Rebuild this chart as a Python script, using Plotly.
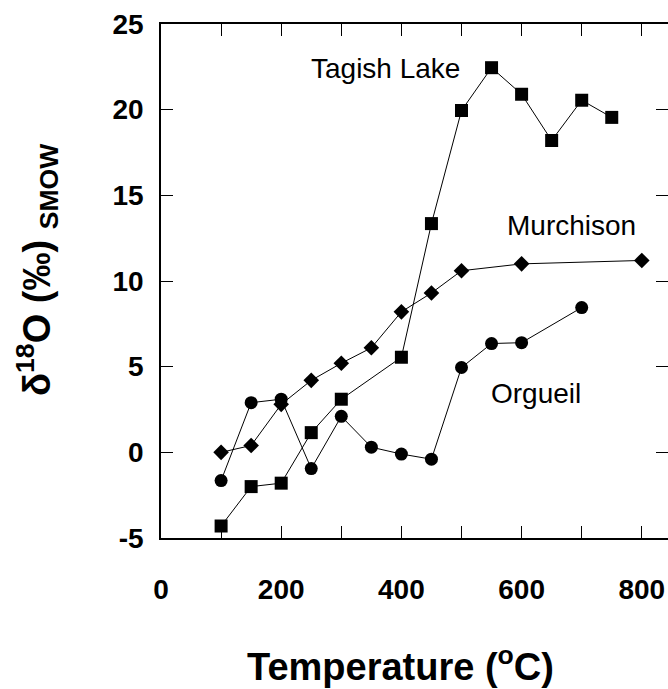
import plotly.graph_objects as go

# ---- data ----
murchison_T = [100, 150, 200, 250, 300, 350, 400, 450, 500, 600, 800]
murchison_d18O = [0.0, 0.4, 2.8, 4.2, 5.2, 6.1, 8.2, 9.3, 10.6, 11.0, 11.2]

orgueil_T = [100, 150, 200, 250, 300, 350, 400, 450, 500, 550, 600, 700]
orgueil_d18O = [-1.65, 2.9, 3.1, -0.95, 2.1, 0.3, -0.1, -0.4, 4.95, 6.35, 6.4, 8.45]

tagish_T = [100, 150, 200, 250, 300, 400, 450, 500, 550, 600, 650, 700, 750]
tagish_d18O = [-4.3, -2.0, -1.8, 1.15, 3.1, 5.55, 13.35, 19.95, 22.45, 20.9, 18.2, 20.55, 19.55]

x_major_step = 200
x_minor_step = 100
y_tickvals = [-5, 0, 5, 10, 15, 20, 25]
y_ticktext = ["-5", "0", "5", "10", "15", "20", "25"]

labels = [("Tagish Lake", 373, 22.4), ("Murchison", 683, 13.25), ("Orgueil", 624, 3.44)]

FONT = "Liberation Sans, Arial, Helvetica, sans-serif"

fig = go.Figure()
line = dict(color="black", width=1)
fig.add_trace(go.Scatter(x=murchison_T, y=murchison_d18O, mode="lines+markers",
                         line=line, marker=dict(symbol="diamond", size=12, color="black"),
                         showlegend=False))
fig.add_trace(go.Scatter(x=orgueil_T, y=orgueil_d18O, mode="lines+markers",
                         line=line, marker=dict(symbol="circle", size=13, color="black"),
                         showlegend=False))
fig.add_trace(go.Scatter(x=tagish_T, y=tagish_d18O, mode="lines+markers",
                         line=line, marker=dict(symbol="square", size=13, color="black"),
                         showlegend=False))
# invisible trace to carry right-side ticks
fig.add_trace(go.Scatter(x=[None], y=[None], yaxis="y2", showlegend=False))

for text, xv, yv in labels:
    fig.add_annotation(x=xv, y=yv, text=text, showarrow=False,
                       font=dict(family=FONT, size=28, color="black"),
                       xanchor="center", yanchor="middle")

fig.add_annotation(xref="paper", yref="paper", x=0.473, y=-0.245,
                   text="<b>Temperature (<sup>o</sup>C)</b>", showarrow=False,
                   font=dict(family=FONT, size=38, color="black"),
                   xanchor="center", yanchor="middle")
fig.add_annotation(xref="paper", yref="paper", x=-0.245, y=0.523,
                   text="<b>δ<sup>18</sup>O (‰) <sub>SMOW</sub></b>", showarrow=False,
                   textangle=-90,
                   font=dict(family=FONT, size=38, color="black"),
                   xanchor="center", yanchor="middle")

tick = dict(ticks="inside", ticklen=12, tickwidth=1, tickcolor="black")
fig.update_layout(
    width=668, height=689,
    margin=dict(l=161, r=0, t=24, b=151),
    paper_bgcolor="white", plot_bgcolor="white",
    xaxis=dict(range=[0, 843.6], tick0=0, dtick=x_major_step, **tick,
               minor=dict(dtick=x_minor_step, tick0=0, ticks="inside", ticklen=12,
                          tickwidth=1, tickcolor="black", showgrid=False),
               showline=True, linecolor="black", linewidth=1.5, mirror="ticks",
               showgrid=False, zeroline=False, ticklabelstandoff=26,
               tickfont=dict(family=FONT, size=28, color="black", weight="bold")),
    yaxis=dict(range=[-5, 25], tickvals=y_tickvals, ticktext=y_ticktext, **tick,
               showline=True, linecolor="black", linewidth=1.5,
               showgrid=False, zeroline=False, ticklabelstandoff=10,
               tickfont=dict(family=FONT, size=28, color="black", weight="bold")),
    yaxis2=dict(range=[-5, 25], tickvals=y_tickvals, overlaying="y", side="right", **tick,
                showticklabels=False, showline=False, showgrid=False, zeroline=False),
)

fig.write_html("out.html")
